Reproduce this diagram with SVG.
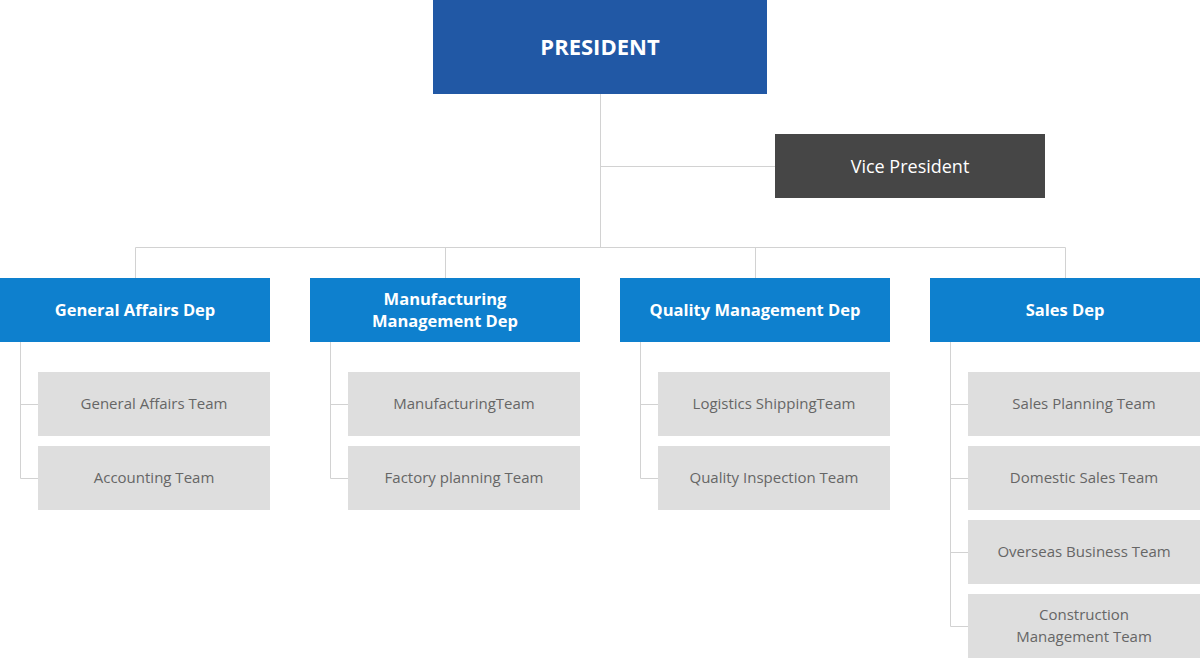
<svg xmlns="http://www.w3.org/2000/svg" width="1200" height="658" viewBox="0 0 1200 658">
<style>
text{font-family:"Open Sans","Noto Sans","Liberation Sans",sans-serif;text-anchor:middle}
.pres{fill:#2158a5}
.vp{fill:#464646}
.dep{fill:#0e80ce}
.team{fill:#dedede}
.tp{fill:#fff;font-size:22px;font-weight:700}
.tv{fill:#fff;font-size:18px}
.td{fill:#fff;font-size:16.5px;font-weight:700}
.tt{fill:#666;font-size:15px}
.ln{stroke:#d2d2d2;stroke-width:1;fill:none}
</style>
<rect width="1200" height="658" fill="#fff"/>
<g id="connectors" class="ln">
<path d="M600.5 94V247.5M600.5 166.5H775M135.5 247.5H1065.5M135.5 247.5V278M445.5 247.5V278M755.5 247.5V278M1065.5 247.5V278"/>
<path d="M20.5 342V478.5M20.5 404.5H38M20.5 478.5H38"/>
<path d="M330.5 342V478.5M330.5 404.5H348M330.5 478.5H348"/>
<path d="M640.5 342V478.5M640.5 404.5H658M640.5 478.5H658"/>
<path d="M950.5 342V626.5M950.5 404.5H968M950.5 478.5H968M950.5 552.5H968M950.5 626.5H968"/>
</g>
<g id="president"><rect class="pres" x="433" y="0" width="334" height="94"/><text class="tp" x="600" y="55">PRESIDENT</text></g>
<g id="vice-president"><rect class="vp" x="775" y="134" width="270" height="64"/><text class="tv" x="910" y="173">Vice President</text></g>
<g id="dep-general"><rect class="dep" x="0" y="278" width="270" height="64"/><text class="td" x="135" y="316">General Affairs Dep</text></g>
<g id="dep-manufacturing"><rect class="dep" x="310" y="278" width="270" height="64"/><text class="td" x="445" y="305">Manufacturing</text><text class="td" x="445" y="327">Management Dep</text></g>
<g id="dep-quality"><rect class="dep" x="620" y="278" width="270" height="64"/><text class="td" x="755" y="316">Quality Management Dep</text></g>
<g id="dep-sales"><rect class="dep" x="930" y="278" width="270" height="64"/><text class="td" x="1065" y="316">Sales Dep</text></g>
<g id="team-general-affairs"><rect class="team" x="38" y="372" width="232" height="64"/><text class="tt" x="154" y="409">General Affairs Team</text></g>
<g id="team-accounting"><rect class="team" x="38" y="446" width="232" height="64"/><text class="tt" x="154" y="483">Accounting Team</text></g>
<g id="team-manufacturing"><rect class="team" x="348" y="372" width="232" height="64"/><text class="tt" x="464" y="409">ManufacturingTeam</text></g>
<g id="team-factory"><rect class="team" x="348" y="446" width="232" height="64"/><text class="tt" x="464" y="483">Factory planning Team</text></g>
<g id="team-logistics"><rect class="team" x="658" y="372" width="232" height="64"/><text class="tt" x="774" y="409">Logistics ShippingTeam</text></g>
<g id="team-quality"><rect class="team" x="658" y="446" width="232" height="64"/><text class="tt" x="774" y="483">Quality Inspection Team</text></g>
<g id="team-sales-planning"><rect class="team" x="968" y="372" width="232" height="64"/><text class="tt" x="1084" y="409">Sales Planning Team</text></g>
<g id="team-domestic"><rect class="team" x="968" y="446" width="232" height="64"/><text class="tt" x="1084" y="483">Domestic Sales Team</text></g>
<g id="team-overseas"><rect class="team" x="968" y="520" width="232" height="64"/><text class="tt" x="1084" y="557">Overseas Business Team</text></g>
<g id="team-construction"><rect class="team" x="968" y="594" width="232" height="64"/><text class="tt" x="1084" y="620">Construction</text><text class="tt" x="1084" y="642">Management Team</text></g>
</svg>
